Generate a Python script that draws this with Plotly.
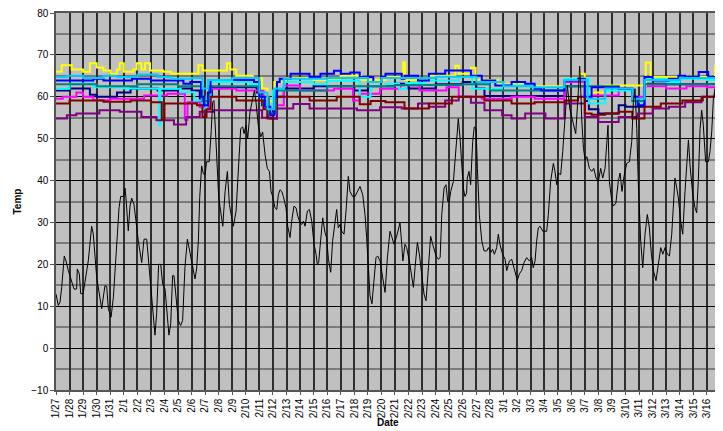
import pandas as pd
import plotly.graph_objects as go

START = pd.Timestamp("2009-01-27")

tick_labels = ["1/27", "1/28", "1/29", "1/30", "1/31", "2/1", "2/2", "2/3", "2/4", "2/5", "2/6",
               "2/7", "2/8", "2/9", "2/10", "2/11", "2/12", "2/13", "2/14", "2/15", "2/16",
               "2/17", "2/18", "2/19", "2/20", "2/21", "2/22", "2/23", "2/24", "2/25", "2/26",
               "2/27", "2/28", "3/1", "3/2", "3/3", "3/4", "3/5", "3/6", "3/7", "3/8", "3/9",
               "3/10", "3/11", "3/12", "3/13", "3/14", "3/15", "3/16"]

# Outdoor temperature (black): day offset from 1/27 00:00, value
outdoor_days = [0.0, 0.17, 0.3, 0.42, 0.61, 0.74, 0.91, 1.16, 1.33, 1.52, 1.57, 1.72, 1.82, 2.0, 2.2, 2.38,
                2.63, 2.75, 3.0, 3.37, 3.61, 3.74, 3.86, 4.06, 4.23, 4.47, 4.65, 4.77, 4.97, 5.09, 5.16, 5.33,
                5.46, 5.58, 5.75, 5.9, 6.07, 6.32, 6.49, 6.69, 6.83, 7.06, 7.3, 7.42, 7.57, 7.72, 7.87, 8.04,
                8.16, 8.33, 8.46, 8.6, 8.7, 8.85, 9.02, 9.19, 9.34, 9.51, 9.69, 9.88, 10.08, 10.25, 10.37, 10.5,
                10.6, 10.74, 10.87, 11.0, 11.1, 11.3, 11.45, 11.55, 11.65, 11.75, 11.85, 12.0, 12.3, 12.47, 12.64,
                12.79, 12.96, 13.08, 13.28, 13.45, 13.62, 13.77, 13.87, 14.01, 14.14, 14.31, 14.51, 14.63, 14.75,
                14.92, 15.1, 15.24, 15.42, 15.59, 15.74, 15.86, 15.98, 16.15, 16.28, 16.4, 16.52, 16.65, 16.77,
                16.96, 17.09, 17.26, 17.38, 17.55, 17.7, 17.83, 18.0, 18.12, 18.25, 18.37, 18.54, 18.69, 18.86,
                19.03, 19.18, 19.27, 19.37, 19.55, 19.67, 19.84, 19.96, 20.09, 20.26, 20.4, 20.58, 20.7, 20.82,
                20.95, 21.07, 21.24, 21.39, 21.56, 21.68, 21.88, 22.05, 22.25, 22.42, 22.62, 22.79, 22.91, 23.04,
                23.16, 23.3, 23.45, 23.6, 23.72, 23.9, 24.09, 24.27, 24.44, 24.63, 24.78, 24.93, 25.1, 25.25,
                25.37, 25.5, 25.58, 25.74, 25.86, 26.06, 26.23, 26.36, 26.48, 26.65, 26.8, 26.97, 27.14, 27.29,
                27.39, 27.54, 27.63, 27.78, 27.9, 28.03, 28.2, 28.33, 28.45, 28.62, 28.76, 28.89, 29.0, 29.11,
                29.31, 29.43, 29.55, 29.67, 29.8, 29.92, 30.04, 30.16, 30.28, 30.33, 30.46, 30.58, 30.73, 30.85,
                30.98, 31.08, 31.22, 31.4, 31.57, 31.77, 31.89, 32.06, 32.2, 32.33, 32.5, 32.62, 32.74, 32.94,
                33.12, 33.24, 33.44, 33.61, 33.73, 33.88, 34.02, 34.17, 34.34, 34.52, 34.71, 34.91, 35.08, 35.2,
                35.33, 35.45, 35.57, 35.7, 35.9, 36.19, 36.31, 36.48, 36.68, 36.8, 36.93, 37.05, 37.22, 37.37,
                37.54, 37.71, 37.9, 38.1, 38.33, 38.5, 38.62, 38.72, 38.77, 38.9, 39.02, 39.15, 39.34, 39.51,
                39.66, 39.83, 40.0, 40.17, 40.32, 40.49, 40.61, 40.71, 40.81, 40.98, 41.1, 41.29, 41.47, 41.6,
                41.74, 41.89, 42.09, 42.29, 42.46, 42.58, 42.7, 42.83, 42.95, 43.12, 43.27, 43.44, 43.61, 43.76,
                43.91, 44.06, 44.25, 44.42, 44.6, 44.75, 44.92, 45.09, 45.24, 45.41, 45.53, 45.65, 45.78, 45.9,
                46.07, 46.22, 46.39, 46.51, 46.64, 46.76, 46.96, 47.13, 47.25, 47.37, 47.5, 47.62, 47.74, 47.91,
                48.11, 48.23, 48.36, 48.48, 48.6, 48.73, 48.85, 48.95]
outdoor_temp = [12.9, 10.2, 11, 14.5, 22, 20.8, 18.5, 16.1, 14.1, 14.1, 18.9, 17.7, 13, 13, 16.9, 20.8,
                29.1, 27.2, 16.9, 9.4, 14.9, 14.7, 9.4, 7.4, 12.1, 23.2, 33.5, 36.2, 36.2, 38.2, 35.8, 28,
                33.9, 35.8, 34.3, 30.3, 25.6, 20.4, 26, 26, 20.8, 13, 3.1, 8.2, 20, 20, 15.3, 14.1,
                9, 3.1, 5.8, 17.3, 17.3, 13, 6.6, 5.4, 6.6, 19.3, 26, 22.8, 19.7, 16.5, 18.9, 25.6,
                36, 43.5, 41.6, 41.4, 44.5, 44.5, 52, 58.7, 59.1, 52, 46, 36, 29.1, 37.4, 42.2,
                34.3, 31.1, 29.1, 32.7, 41.4, 52.4, 52.8, 51.2, 53.2, 50.1, 56.4, 59.5, 61.5, 58.7,
                53.2, 50.4, 51.6, 46.1, 42.9, 42.2, 37.4, 36.2, 33.5, 33.1, 36.6, 37.8, 37.4, 36.2,
                33.5, 29.1, 26.4, 30.3, 33.9, 33.5, 31.5, 29.9, 29.5, 30.3, 29.1, 32.7, 33.1, 30.3,
                24.8, 22.4, 20, 20.4, 27.9, 31.1, 27.5, 26.4, 21.2, 18.1, 25.6, 30.7, 33.1, 28.7,
                29.5, 27.9, 27.2, 32.7, 41, 37.4, 36.2, 36.2, 37.4, 38.6, 36.6, 31.9, 26.4, 19.2,
                12.5, 10.6, 16.9, 21.6, 22, 20.8, 16.9, 13.3, 21.6, 27.9, 26.4, 24.8, 26.4, 28.7,
                29.9, 24.8, 20.8, 24.8, 24, 20.8, 16.9, 14.5, 19.2, 25.2, 22.4, 17.7, 12.9, 11.3,
                15.3, 23.2, 26.7, 24.8, 23.6, 22, 21.2, 21.6, 31.9, 38.2, 39, 35, 35, 37.4,
                39.8, 45.3, 50.1, 54.8, 50.1, 42.9, 38.2, 36.2, 37, 40.6, 42.2, 39, 49.3, 52.8,
                52.4, 42.9, 31.9, 25.6, 23.2, 23.2, 24, 22.8, 23.6, 22.4, 24, 27.2, 24.8, 22.4,
                21.2, 18.5, 20.8, 21.2, 19.6, 18.1, 16.2, 17.7, 18.5, 20.4, 21.6, 20.8, 21.6, 19.2,
                20.8, 25.6, 28.7, 29.1, 27.9, 27.9, 31.9, 39.8, 44.1, 42.2, 39, 41.8, 41.4, 46.9,
                55.6, 62.7, 57, 54, 51.2, 60, 67.3, 60, 54.8, 47.7, 44.9, 45.7, 42.9, 42.2,
                42.9, 40.6, 39.8, 42.9, 40.6, 42.9, 49.3, 53.2, 39.8, 35.4, 33.9, 34.6, 39.8, 41.8,
                37.4, 41, 44.1, 44.5, 49.3, 58.7, 61.9, 52.4, 39, 25.6, 19.2, 27.2, 31.9, 28.7,
                22.4, 18.5, 16.1, 20, 24, 22.4, 24, 22.4, 22, 27.2, 33.5, 40.6, 38.2, 35.8,
                30.3, 27.2, 37.4, 43.7, 49.7, 43.7, 36.6, 33.5, 32.3, 39.8, 52.4, 56.8, 53.2, 44.5,
                44.5, 46.9, 51.6, 59.5, 61.9, 60.3, 50.1, 50]

# Indoor series (step changes): day offsets and values
navy_days = [0, 1.0, 2.5, 3.0, 4.5, 5.5, 7.5, 9.0, 10.0, 10.6, 10.8, 11.2, 11.5, 14.8, 15.2, 15.6, 16.0, 16.3,
             16.8, 19, 22, 23, 25, 26, 28, 30, 31, 31.6, 37.5, 39.0, 39.3, 40.0, 41.5, 42.0, 43.4, 45, 49]
navy_vals = [61.5, 62, 60.5, 60, 61, 62, 61.5, 62, 61.5, 59, 57.6, 60, 62.3, 61, 58, 55, 54.8, 60,
             62, 62.5, 61.5, 62.5, 63.1, 62, 63, 63.5, 62, 60.2, 62.5, 59, 57, 56, 58, 57.6, 63.1, 63, 63.5]

magenta_days = [0, 0.5, 1.5, 2.0, 2.75, 4.0, 6.5, 8.2, 9.5, 9.7, 10.6, 11.4, 13.3, 15.3, 15.6, 16.0, 16.8, 18.0,
                20.5, 21.9, 22.4, 23.9, 25.4, 26.8, 28.8, 29.7, 31.4, 33.6, 35.3, 37.5, 39.0, 39.5, 41.5,
                42.5, 43.4, 45, 46.5, 48, 49]
magenta_vals = [59.5, 60, 61, 60, 59.2, 59.5, 60.3, 60.7, 54.5, 58.7, 57.5, 61.9, 61.5, 59, 56, 58, 62.7, 61.5,
                61.9, 59.1, 60.7, 61.9, 62.7, 61.5, 62.3, 60, 59.5, 60, 59.5, 63.5, 60, 60.3, 61.9,
                60, 62.5, 62, 62.5, 62.3, 62.5]

yellow_days = [0, 0.42, 1.16, 2.0, 2.5, 3.0, 3.5, 4.0, 4.5, 4.7, 5.0, 5.7, 5.95, 6.3, 6.56, 6.93, 7.9, 8.5,
               10.5, 10.8, 12.6, 12.85, 13.3, 14.5, 15.2, 15.6, 16.1, 17.0, 19.0, 21.0, 22.5, 24.3, 25.6,
               25.75, 27.5, 29.45, 29.7, 30.6, 30.95, 32.6, 35.3, 37.5, 38.6, 39.0, 39.3, 40.5, 43.5, 43.85,
               48.6, 48.85, 49]
yellow_vals = [66, 67.5, 66.5, 66, 68, 67, 66.3, 65.5, 66.5, 68, 66, 66.5, 68, 66.5, 68, 66.3, 66, 65.5,
               67.5, 66.3, 68, 66.5, 65, 64.5, 62, 59, 63.5, 64.5, 64, 65, 64, 64.7, 68.2,
               64, 65, 67.4, 65.5, 66.9, 64, 63, 62.5, 64.3, 65.5, 63, 61, 62.7, 68.2, 64.7,
               67.4, 65.5, 65.5]

cyan_days = [0, 1.0, 2.75, 5.0, 7.5, 7.6, 7.7, 9.2, 10.2, 10.8, 11.1, 11.4, 14.3, 15.0, 15.3, 15.7, 16.0,
             16.8, 19, 20, 22.4, 23.2, 24.3, 25.3, 25.8, 27.2, 29.7, 30.7, 32.9, 35.3, 37.5, 39.3, 40.5,
             42.5, 43.4, 45, 46, 48, 48.8, 49]
cyan_vals = [61.9, 63.1, 62.3, 62, 61.9, 53.2, 61.9, 61.1, 59.1, 57.2, 60, 63.5, 63, 60, 58, 56.8, 61.5,
             63.5, 63, 63.8, 60, 62.5, 63.1, 61.9, 63.3, 63.9, 64.7, 61.9, 62.7, 61.5, 64.3, 58.4, 61.5,
             58.8, 64.3, 63.5, 64.3, 64, 65.5, 65.5]

purple_days = [0, 0.8, 1.5, 3.2, 4.7, 6.3, 7.4, 8.7, 9.6, 10.6, 11.6, 13.6, 15.2, 15.8, 16.3, 17.5, 18.7,
               22.2, 23.9, 25.5, 26.7, 27.5, 28.7, 29.7, 30.6, 31.6, 32.9, 33.6, 34.6, 36.1, 37.5, 39.0,
               40.0, 41.5, 42.9, 44.0, 45.2, 46.4, 47.6, 49]
purple_vals = [54.8, 55.6, 56, 56.8, 56.4, 55.2, 54.4, 53.4, 55.2, 56.4, 56.8, 56.8, 55, 54.8, 57.2, 58.3, 57.2,
               56.8, 57.5, 57.2, 58.4, 57.6, 59.1, 60, 58.6, 56.8, 55.6, 54.8, 56, 54.8, 58.4, 55.2,
               54, 55.2, 56, 57.2, 57.6, 58.7, 60, 60]

darkred_days = [0, 1.0, 3.5, 5.5, 7.0, 7.8, 8.0, 10.4, 10.8, 11.1, 11.4, 13.3, 15.3, 15.6, 16.0, 16.3, 18.7,
                20.7, 22.4, 23.2, 24.3, 25.7, 27.5, 29.2, 31.6, 33.6, 35.3, 37.5, 38.5, 39.0, 39.5, 40.5,
                41.5, 42.5, 43.4, 44.6, 46.2, 47.7, 48.6, 49]
darkred_vals = [58.4, 59.1, 58.8, 59.1, 58.7, 54.5, 58.4, 58, 55.2, 57, 60, 59.1, 57, 54.8, 57, 60, 59.1,
                60, 58.2, 59, 58.7, 57.2, 58.4, 60, 59.1, 58.4, 58.7, 59.1, 60, 56, 55.7, 56,
                56.4, 54.8, 57.6, 58.4, 59.1, 60, 60.7, 60.7]

teal_days = [0, 3, 6, 9, 10.8, 11.3, 15, 15.7, 16.2, 20, 25, 30, 32, 37.5, 41.5, 42.5, 43.4, 49]
teal_vals = [63, 62.5, 63, 62.5, 59, 62.5, 60, 56, 61.5, 62.5, 62.8, 63, 61.5, 62.5, 62, 59, 63, 63.5]

blue_days = [0, 2.75, 3.5, 5.6, 7.0, 9.4, 9.9, 10.7, 10.9, 11.2, 11.4, 14.6, 15.0, 15.4, 15.8, 16.1, 16.3,
             16.5, 17.3, 18.7, 19.5, 20.5, 21.0, 21.7, 22.4, 23.4, 24.0, 24.3, 25.5, 25.7, 26.7, 27.5,
             28.7, 30.6, 31.4, 32.4, 33.6, 34.6, 35.3, 35.8, 37.5, 38.5, 39.0, 39.5, 41.5, 42.5, 42.9,
             43.4, 44.0, 45.2, 45.9, 46.4, 47.4, 48.1, 48.85, 49]
blue_vals = [63.9, 64.3, 63.9, 64.3, 63.9, 63.1, 63.5, 60, 58, 61, 64, 63.5, 60, 57.6, 55.6, 60, 63.5,
             64.3, 65.5, 64.7, 65.5, 66.2, 65.5, 65.8, 64.7, 63.5, 64.7, 65.5, 64.3, 65, 63.9, 65.5,
             66.3, 65, 63.9, 62.7, 63.5, 63.1, 61.9, 61.5, 63.9, 64.3, 60, 62.3, 61.9, 60, 58,
             64.7, 63.9, 64.3, 65, 64.7, 65.9, 64.7, 66.6, 66.6]

skyblue_days = [0, 0.8, 2.0, 3.5, 4.5, 6.0, 7.5, 8.5, 10, 10.8, 11.2, 13, 15.0, 15.6, 16.1, 16.8, 20, 23, 24,
                28, 31, 33, 35, 37.5, 39.2, 40.5, 42.5, 43.4, 46, 49]
skyblue_vals = [64.7, 65, 64.5, 65, 64.7, 65.3, 64.7, 64.3, 64.5, 62, 64, 64.5, 61, 57, 62, 64.3, 64.5, 63.5,
                64.5, 64.8, 63.5, 62.5, 62.3, 64, 59.5, 62, 59.5, 64, 64.5, 65]


def to_dates(days):
    return [START + pd.Timedelta(days=d) for d in days]


fig = go.Figure()

indoor = [
    (navy_days, navy_vals, "#000080"),
    (magenta_days, magenta_vals, "#FF00FF"),
    (yellow_days, yellow_vals, "#FFFF00"),
    (cyan_days, cyan_vals, "#00FFFF"),
    (purple_days, purple_vals, "#800080"),
    (darkred_days, darkred_vals, "#800000"),
    (teal_days, teal_vals, "#008080"),
    (blue_days, blue_vals, "#0000FF"),
    (skyblue_days, skyblue_vals, "#00CCFF"),
]
for d, v, c in indoor:
    fig.add_trace(go.Scatter(x=to_dates(d), y=v, mode="lines",
                             line=dict(color=c, width=2, shape="hv"),
                             showlegend=False, hoverinfo="skip"))

fig.add_trace(go.Scatter(x=to_dates(outdoor_days), y=outdoor_temp, mode="lines",
                         line=dict(color="#000000", width=1),
                         showlegend=False, hoverinfo="skip"))

tick_vals = [START + pd.Timedelta(days=i) for i in range(len(tick_labels))]
FONT = "Liberation Sans, Arial, sans-serif"

# The page body adds an 8px offset, so the figure is sized to fit the visible window.
fig.update_layout(
    width=715, height=423,
    margin=dict(l=48, r=3, t=5, b=41, autoexpand=False),
    paper_bgcolor="white",
    plot_bgcolor="#C0C0C0",
    font=dict(family=FONT, size=10, color="black"),
    xaxis=dict(
        type="date", automargin=False, ticklabeloverflow="allow",
        range=[START, START + pd.Timedelta(days=48.97)],
        tickmode="array", tickvals=tick_vals, ticktext=tick_labels,
        tickangle=-90, tickfont=dict(family=FONT, size=10, color="black"),
        showgrid=True, gridcolor="#2e2e2e", gridwidth=1.6,
        showline=True, linecolor="#555555", linewidth=1.5, mirror=True,
        ticks="outside", ticklen=3, tickcolor="#555555",
        zeroline=False,
    ),
    yaxis=dict(
        automargin=False, ticklabeloverflow="allow",
        range=[-10, 80], dtick=10, tick0=0,
        tickfont=dict(family=FONT, size=10, color="black"),
        showgrid=True, gridcolor="#000000", gridwidth=1.2,
        minor=dict(dtick=5, showgrid=True, gridcolor="#7a7a7a", gridwidth=1.5),
        showline=True, linecolor="#555555", linewidth=1.5, mirror=True,
        ticks="outside", ticklen=4, tickcolor="#555555",
        zeroline=False,
    ),
    annotations=[
        dict(text="<b>Temp</b>", x=-0.0587, y=0.5, xref="paper", yref="paper",
             textangle=-90, showarrow=False, font=dict(family=FONT, size=10, color="black"),
             xanchor="center", yanchor="middle"),
        dict(text="<b>Date</b>", x=0.5, y=-0.106, xref="paper", yref="paper",
             showarrow=False, font=dict(family=FONT, size=10, color="black"),
             xanchor="center", yanchor="bottom"),
    ],
)

fig.write_html("out.html")
